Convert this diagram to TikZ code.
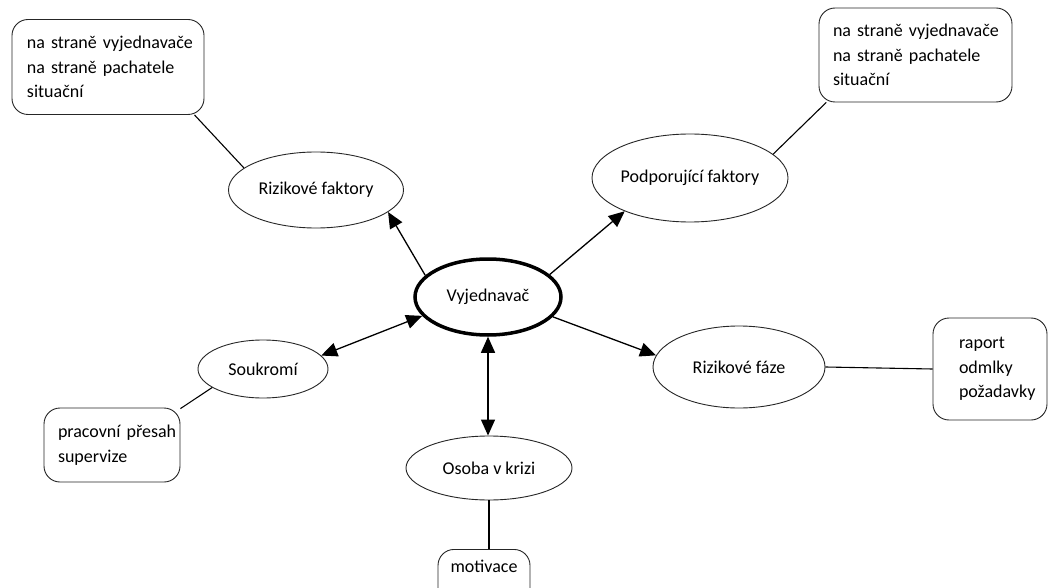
\documentclass[tikz,border=0pt]{standalone}
\usepackage{fontspec}
\setmainfont{Carlito}
\frenchspacing
\usetikzlibrary{arrows.meta,shapes.geometric}
\begin{document}
\begin{tikzpicture}[x=1pt,y=-1pt,
  every node/.style={font=\fontsize{18}{24.5}\selectfont\frenchspacing, text=black},
  oval/.style={draw=black!85, ellipse, line width=0.9pt, inner sep=0pt},
  mainoval/.style={draw=black, ellipse, line width=3.5pt, inner sep=0pt},
  infobox/.style={draw=black!85, rounded corners=16pt, line width=0.9pt, align=left, inner ysep=0pt},
  link/.style={line width=1.1pt},
  arr/.style={line width=1.3pt, -{Triangle[length=16pt,width=14pt]}},
  dblarr/.style={line width=1.3pt, {Triangle[length=16pt,width=14pt]}-{Triangle[length=16pt,width=14pt]}}
]
\useasboundingbox (0,0) rectangle (1049,588);
\fill[white] (0,0) rectangle (1049,588);

% boxes
\node[infobox, minimum width=192pt, minimum height=95pt, inner xsep=15pt, text width=162pt] (tl) at (108,67)
  {\mbox{na straně vyjednavače}\\\mbox{na straně pachatele}\\\mbox{situační}};
\node[infobox, minimum width=193pt, minimum height=94pt, inner xsep=14pt, text width=165pt] (tr) at (915.5,55)
  {\mbox{na straně vyjednavače}\\\mbox{na straně pachatele}\\\mbox{situační}};
\node[infobox, minimum width=136pt, minimum height=74pt, inner xsep=14pt, text width=108pt] (bl) at (112,445)
  {\mbox{pracovní přesah}\\\mbox{supervize}};
\node[infobox, minimum width=114pt, minimum height=102pt, inner xsep=26pt, text width=62pt] (rb) at (990,369)
  {\mbox{raport}\\\mbox{odmlky}\\\mbox{požadavky}};
\node[draw=black!85, rounded corners=16pt, line width=0.9pt, anchor=north, minimum width=92pt,
  inner ysep=11pt, text height=12pt, text depth=22pt] (mot) at (484,549) {motivace};

% ellipses
\node[oval, minimum width=175pt, minimum height=76pt] (rf) at (316,190) {Rizikové faktory};
\node[oval, minimum width=196pt, minimum height=88pt] (pf) at (690,178) {Podporující faktory};
\node[mainoval, minimum width=146pt, minimum height=76pt] (vy) at (488,297) {Vyjednavač};
\node[oval, minimum width=130pt, minimum height=58pt] (so) at (263,369) {Soukromí};
\node[oval, minimum width=172pt, minimum height=82pt] (rz) at (739,367) {Rizikové fáze};
\node[oval, minimum width=166pt, minimum height=64pt] (os) at (489,468) {Osoba v krizi};

% connectors
\draw[link] (tl.-29) -- (rf.163);
\draw[arr] (vy.161) -- (rf.-17);
\draw[arr] (vy.20) -- (pf.-153);
\draw[link] (tr.208) -- (pf.16);
\draw[dblarr] (vy.196) -- (so.13);
\draw[link] (so.200) -- (bl.28);
\draw[dblarr] (vy.south) -- (vy.south |- os.north);
\draw[link] (os.south) -- (os.south |- mot.north);
\draw[arr] (vy.-17) -- (rz.172);
\draw[link] (rz.east) -- (rb.west);
\end{tikzpicture}
\end{document}
